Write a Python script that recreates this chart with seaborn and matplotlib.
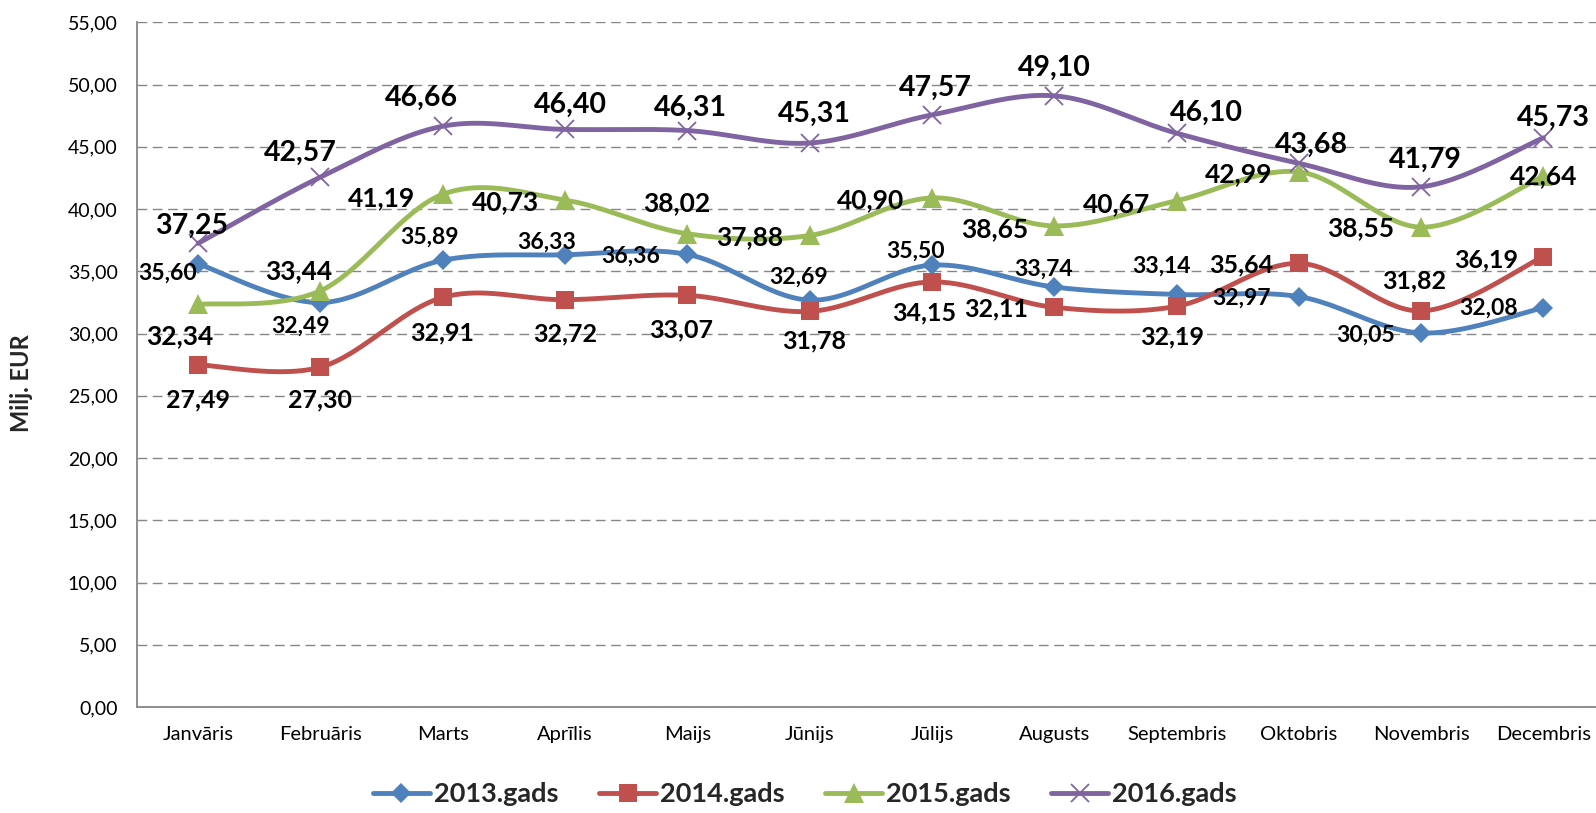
import numpy as np
import pandas as pd
import matplotlib
matplotlib.use("Agg")
import matplotlib.pyplot as plt
from matplotlib.lines import Line2D
import seaborn as sns

# --- data ---
months = ["Janvāris", "Februāris", "Marts", "Aprīlis", "Maijs", "Jūnijs",
          "Jūlijs", "Augusts", "Septembris", "Oktobris", "Novembris", "Decembris"]
y2013 = [35.60, 32.49, 35.89, 36.33, 36.36, 32.69, 35.50, 33.74, 33.14, 32.97, 30.05, 32.08]
y2014 = [27.49, 27.30, 32.91, 32.72, 33.07, 31.78, 34.15, 32.11, 32.19, 35.64, 31.82, 36.19]
y2015 = [32.34, 33.44, 41.19, 40.73, 38.02, 37.88, 40.90, 38.65, 40.67, 42.99, 38.55, 42.64]
y2016 = [37.25, 42.57, 46.66, 46.40, 46.31, 45.31, 47.57, 49.10, 46.10, 43.68, 41.79, 45.73]
series_names = ["2013.gads", "2014.gads", "2015.gads", "2016.gads"]

# label offsets in pixels (dx, dy with dy pointing down)
off2013 = [(-31, 9), (-20, 24), (-13, -23), (-18, -13), (-57, 2), (-11, -23),
           (-16, -14), (-11, -18), (-15, -28), (-57, 2), (-56, 2), (-55, 1)]
off2014 = [(0, 35), (0, 33), (-1, 36), (0, 34), (-6, 35), (4, 29),
           (-8, 31), (-58, 2), (-4, 31), (-58, 2), (-7, -30), (-57, 3)]
off2015 = [(-18, 32), (-22, -20), (-61, 4), (-60, 2), (-11, -31), (-60, 2),
           (-61, 2), (-60, 3), (-60, 3), (-60, 2), (-60, 1), (0, 0)]
off2016 = [(-7, -17), (-20, -24), (-21, -28), (5, -25), (3, -23), (5, -29),
           (3, -27), (0, -28), (30, -20), (13, -18), (4, -27), (10, -20)]

styles = [
    dict(color="#4F81BD", marker="D", ms=10.5, mew=0, fs=16.5, off=off2013),
    dict(color="#C0504D", marker="s", ms=13.5, mew=0, fs=18, off=off2014),
    dict(color="#9BBB59", marker="^", ms=14.5, mew=0, fs=19, off=off2015),
    dict(color="#8064A2", marker="x", ms=13, mew=1.3, fs=20.5, off=off2016),
]


def smooth(vals, n=40):
    # Excel-like smoothed line: cubic Bezier through points, Catmull-Rom tangents
    pts = np.column_stack([np.arange(len(vals)), vals]).astype(float)
    out = []
    t = np.linspace(0, 1, n)[:, None]
    for i in range(len(pts) - 1):
        p0 = pts[max(i - 1, 0)]
        p1 = pts[i]
        p2 = pts[i + 1]
        p3 = pts[min(i + 2, len(pts) - 1)]
        c1 = p1 + (p2 - p0) / 6
        c2 = p2 - (p3 - p1) / 6
        seg = ((1 - t) ** 3) * p1 + 3 * ((1 - t) ** 2) * t * c1 + 3 * (1 - t) * t ** 2 * c2 + t ** 3 * p2
        out.append(seg if i == 0 else seg[1:])
    out = np.vstack(out)
    return pd.DataFrame({"x": out[:, 0], "y": out[:, 1]})


sns.set_style("white")
plt.rcParams["font.family"] = ["Lato", "DejaVu Sans"]

W, H = 1596, 813
fig = plt.figure(figsize=(W / 100, H / 100), dpi=100)
ax_left, ax_right, ax_top, ax_bottom = 137, 1604.6, 22.4, 707
ax = fig.add_axes([ax_left / W, 1 - ax_bottom / H, (ax_right - ax_left) / W, (ax_bottom - ax_top) / H])

xpos = np.arange(len(months))
all_series = [y2013, y2014, y2015, y2016]

handles = []
for vals, name, st in zip(all_series, series_names, styles):
    curve = smooth(vals)
    sns.lineplot(data=curve, x="x", y="y", sort=False, color=st["color"],
                 linewidth=3.5, ax=ax, zorder=3)
    ax.plot(xpos, vals, linestyle="none", marker=st["marker"], markersize=st["ms"],
            color=st["color"], markeredgecolor=st["color"], markeredgewidth=st["mew"],
            zorder=4, clip_on=False)
    handles.append(Line2D([0], [0], color=st["color"], linewidth=3.5, marker=st["marker"],
                          markersize=st["ms"], markeredgewidth=st["mew"],
                          markeredgecolor=st["color"]))

for vals, st in zip(all_series, styles):
    for i, v in enumerate(vals):
        dx, dy = st["off"][i]
        ax.annotate(f"{v:.2f}".replace(".", ","), xy=(i, v), xytext=(dx, -dy),
                    textcoords="offset pixels", ha="center", va="center",
                    fontsize=st["fs"], fontweight="bold", color="black", zorder=6,
                    annotation_clip=False)

ax.set_xlim(-0.5, len(months) - 0.5)
ax.set_ylim(0, 55)
ax.set_yticks(np.arange(0, 56, 5))
ax.set_yticklabels([f"{v:.2f}".replace(".", ",") for v in np.arange(0, 56, 5)], fontsize=14)
ax.set_xticks(xpos)
ax.set_xticklabels(months, fontsize=14.5)
ax.tick_params(axis="both", length=0, colors="black")
ax.tick_params(axis="y", pad=14)
ax.tick_params(axis="x", pad=14)

ax.grid(axis="y", linestyle=(0, (7, 4)), linewidth=1.0, color="#868686", zorder=0)
ax.grid(axis="x", visible=False)
for s in ["top", "right"]:
    ax.spines[s].set_visible(False)
for s in ["left", "bottom"]:
    ax.spines[s].set_color("#868686")
    ax.spines[s].set_linewidth(1.3)

ax.set_xlabel("")
ax.set_ylabel("Milj. EUR", fontsize=17, fontweight="bold")
ax.yaxis.set_label_coords((33 - ax_left) / (ax_right - ax_left), (ax_bottom - 383) / (ax_bottom - ax_top))

fig.legend(handles, series_names, loc="center", bbox_to_anchor=(805 / W, 1 - 794 / H),
           ncol=4, frameon=False, prop={"size": 19.5, "weight": "bold"},
           handlelength=2.1, handletextpad=0.15, columnspacing=1.5)

fig.savefig("out.png", dpi=100)
